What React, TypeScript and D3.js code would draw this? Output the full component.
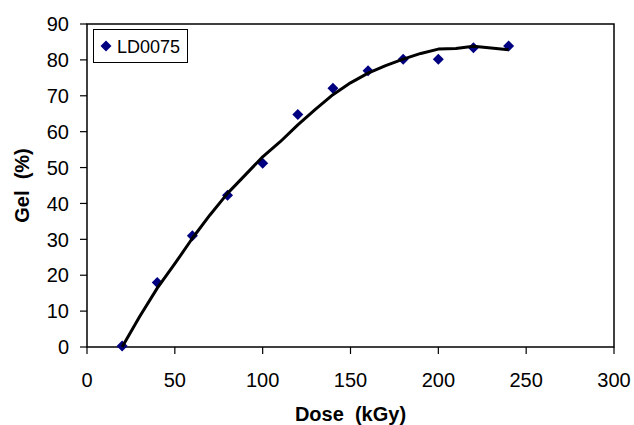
import React from "react";
import * as d3 from "d3";

const doseValues = [20, 40, 60, 80, 100, 120, 140, 160, 180, 200, 220, 240];
const gelValues = [0.3, 18, 31, 42.3, 51.2, 64.8, 72.1, 77.0, 80.2, 80.2, 83.4, 83.9];

const curveDose = [20, 30, 40, 50, 60, 70, 80, 90, 100, 110, 120, 130, 140, 150, 160, 170, 180, 190, 200, 210, 220, 230, 240];
const curveGel = [0, 8.5, 16.4, 23.2, 30.3, 36.8, 42.8, 47.9, 53.0, 57.2, 61.9, 66.2, 70.3, 73.6, 76.3, 78.4, 80.2, 81.8, 83.0, 83.2, 83.8, 83.3, 82.8];

const xTicks = [0, 50, 100, 150, 200, 250, 300];
const yTicks = [0, 10, 20, 30, 40, 50, 60, 70, 80, 90];

const seriesName = "LD0075";
const xTitle = "Dose  (kGy)";
const yTitle = "Gel  (%)";

const W = 634;
const H = 425;
const left = 87;
const right = 614;
const top = 24;
const bottom = 347;
const FONT = "Arial, 'Liberation Sans', sans-serif";

export default function App() {
  const x = d3.scaleLinear().domain([0, 300]).range([left, right]);
  const y = d3.scaleLinear().domain([0, 90]).range([bottom, top]);

  const line = d3
    .line<number>()
    .x((_, i) => x(curveDose[i]))
    .y((d) => y(d))
    .curve(d3.curveLinear);

  const diamond = (cx: number, cy: number, r: number) =>
    `M${cx},${cy - r}L${cx + r},${cy}L${cx},${cy + r}L${cx - r},${cy}Z`;

  return (
    <div style={{ position: "fixed", left: 0, top: 0 }}>
      <svg width={W} height={H} style={{ display: "block", background: "#fff" }}>
        <rect x={0} y={0} width={W} height={H} fill="#fff" />
        <rect
          x={left}
          y={top}
          width={right - left}
          height={bottom - top}
          fill="none"
          stroke="#000"
          strokeWidth={1.5}
        />
        {yTicks.map((t) => (
          <g key={"y" + t}>
            <line x1={left - 7} x2={left} y1={y(t)} y2={y(t)} stroke="#000" strokeWidth={1.2} />
            <text
              x={69}
              y={y(t)}
              dy="0.36em"
              textAnchor="end"
              fontFamily={FONT}
              fontSize={20}
              fill="#000"
            >
              {t}
            </text>
          </g>
        ))}
        {xTicks.map((t) => (
          <g key={"x" + t}>
            <line x1={x(t)} x2={x(t)} y1={bottom} y2={bottom + 7} stroke="#000" strokeWidth={1.2} />
            <text
              x={x(t)}
              y={387}
              textAnchor="middle"
              fontFamily={FONT}
              fontSize={20}
              fill="#000"
            >
              {t}
            </text>
          </g>
        ))}
        <text
          x={(left + right) / 2}
          y={421}
          textAnchor="middle"
          fontFamily={FONT}
          fontSize={20}
          fontWeight="bold"
          fill="#000"
          style={{ whiteSpace: "pre" }}
        >
          {xTitle}
        </text>
        <text
          transform={`translate(29, ${(top + bottom) / 2}) rotate(-90)`}
          textAnchor="middle"
          fontFamily={FONT}
          fontSize={20}
          fontWeight="bold"
          fill="#000"
          style={{ whiteSpace: "pre" }}
        >
          {yTitle}
        </text>
        {doseValues.map((d, i) => (
          <path key={"m" + i} d={diamond(x(d), y(gelValues[i]), 5.5)} fill="#000080" />
        ))}
        <path d={line(curveGel) || ""} fill="none" stroke="#000" strokeWidth={3} strokeLinejoin="round" />
        <rect x={93.5} y={29.5} width={94} height={33} fill="#fff" stroke="#000" strokeWidth={1} />
        <path d={diamond(106, 46, 5.5)} fill="#000080" />
        <text x={117} y={52.5} fontFamily={FONT} fontSize={18} fill="#000">
          {seriesName}
        </text>
      </svg>
    </div>
  );
}
